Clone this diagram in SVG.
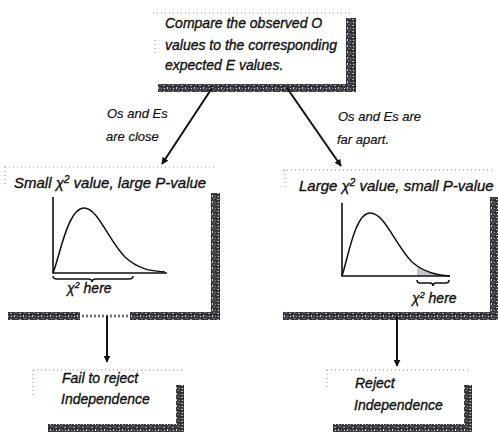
<svg xmlns="http://www.w3.org/2000/svg" width="498" height="438" viewBox="0 0 498 438">
<defs>
<pattern id="grain" width="9" height="6" patternUnits="userSpaceOnUse">
<rect width="9" height="6" fill="#3a3a40"/>
<rect x="1" y="1" width="2" height="1" fill="#a8a8b4"/>
<rect x="5" y="3" width="1" height="2" fill="#d0d0d8"/>
<rect x="6" y="0" width="2" height="1" fill="#6e6e7c"/>
<rect x="2" y="4" width="1" height="1" fill="#e4e4ea"/>
<rect x="8" y="4" width="1" height="1" fill="#8a8a98"/>
<rect x="0" y="2" width="1" height="1" fill="#1a1a1e"/>
<rect x="3" y="2" width="2" height="1" fill="#18181c"/>
</pattern>
<marker id="ah" viewBox="0 0 10 10" refX="9" refY="5" markerWidth="7" markerHeight="7" markerUnits="userSpaceOnUse" orient="auto">
<path d="M0,0 L10,5 L0,10 z" fill="#111"/>
</marker>
</defs>
<style>
text{font-family:"Liberation Sans",Arial,sans-serif;font-style:italic;fill:#111;stroke:#111;stroke-width:0.35}
.t{font-size:14px}
.h{font-size:15px}
.l{font-size:13px;stroke-width:0.2}
.edge{stroke:#a8b2cc;stroke-width:1.5;stroke-dasharray:1 3;fill:none}
.sh{fill:url(#grain)}
.ax{stroke:#111;stroke-width:1.6;fill:none}
.cv{stroke:#111;stroke-width:1.5;fill:none}
.cn{stroke:#111;stroke-width:2;fill:none;marker-end:url(#ah)}
</style>
<rect width="498" height="438" fill="#fff"/>

<g id="compare">
<line class="edge" x1="153" y1="13" x2="352" y2="13"/>
<line class="edge" x1="155" y1="40" x2="155" y2="56"/>
<rect class="sh" x="346" y="18" width="10" height="74"/>
<rect class="sh" x="158" y="84" width="198" height="8"/>
<text class="t" x="165" y="28">Compare the observed O</text>
<text class="t" x="165" y="50">values to the corresponding</text>
<text class="t" x="165" y="70">expected E values.</text>
</g>

<g id="small">
<line class="edge" x1="5" y1="167" x2="215" y2="167"/>
<line class="edge" x1="5" y1="167" x2="5" y2="185"/>
<rect class="sh" x="211" y="193" width="9" height="127"/>
<rect class="sh" x="8" y="312" width="72" height="8"/>
<line x1="82" y1="316" x2="128" y2="316" stroke="#777" stroke-width="3" stroke-dasharray="2 2"/>
<rect class="sh" x="130" y="312" width="90" height="8"/>
<text class="h" x="14" y="188">Small χ<tspan dy="-5" font-size="10">2</tspan><tspan dy="5"> value, large P-value</tspan></text>
<path class="ax" d="M53,197 V273 H167"/>
<path class="cv" d="M53,273 C60,255 68,208 84,208 C98,208 108,240 125,257 C138,269 150,271 165,272"/>
<path class="cv" d="M53,276 Q53,279 57,279 L88,279 Q92,279 92,282 Q92,279 96,279 L129,279 Q133,279 133,276"/>
<text class="t" x="67" y="293">χ<tspan dy="-5" font-size="9">2</tspan><tspan dy="5"> here</tspan></text>
</g>

<g id="large">
<line class="edge" x1="283" y1="170" x2="495" y2="170"/>
<line class="edge" x1="285" y1="170" x2="285" y2="190"/>
<rect class="sh" x="490" y="197" width="8" height="123"/>
<rect class="sh" x="283" y="312" width="215" height="8"/>
<text class="h" x="299" y="191">Large χ<tspan dy="-5" font-size="10">2</tspan><tspan dy="5"> value, small P-value</tspan></text>
<path d="M417,266 C425,273 437,275 449,276 L417,276 Z" fill="#c4c4cc"/>
<path class="ax" d="M342,203 V276 H450"/>
<path class="cv" d="M342,276 C348,258 355,213 370,213 C385,213 395,245 412,262 C425,273 437,275 450,276"/>
<path class="cv" d="M417,280 Q417,283 420,283 L430,283 Q433,283 433,286 Q433,283 436,283 L446,283 Q449,283 449,280"/>
<text class="t" x="412" y="303">χ<tspan dy="-5" font-size="9">2</tspan><tspan dy="5"> here</tspan></text>
</g>

<g id="fail">
<line class="edge" x1="33" y1="370" x2="183" y2="370"/>
<line class="edge" x1="33" y1="370" x2="33" y2="395"/>
<rect class="sh" x="176" y="385" width="8" height="47"/>
<rect class="sh" x="48" y="424" width="136" height="8"/>
<text class="t" x="62" y="383">Fail to reject</text>
<text class="t" x="61" y="404">Independence</text>
</g>

<g id="reject">
<line class="edge" x1="327" y1="370" x2="470" y2="370"/>
<line class="edge" x1="327" y1="370" x2="327" y2="390"/>
<rect class="sh" x="464" y="385" width="8" height="47"/>
<rect class="sh" x="333" y="424" width="139" height="8"/>
<text class="t" x="355" y="388">Reject</text>
<text class="t" x="354" y="410">Independence</text>
</g>

<g id="connectors">
<line class="cn" x1="212" y1="88" x2="162" y2="164"/>
<line class="cn" x1="287" y1="88" x2="341" y2="166"/>
<line class="cn" x1="107" y1="316" x2="107" y2="362"/>
<line class="cn" x1="397" y1="316" x2="397" y2="366"/>
<text class="l" x="107" y="118">Os and Es</text>
<text class="l" x="106" y="141">are close</text>
<text class="l" x="338" y="121">Os and Es are</text>
<text class="l" x="337" y="144">far apart.</text>
</g>
</svg>
